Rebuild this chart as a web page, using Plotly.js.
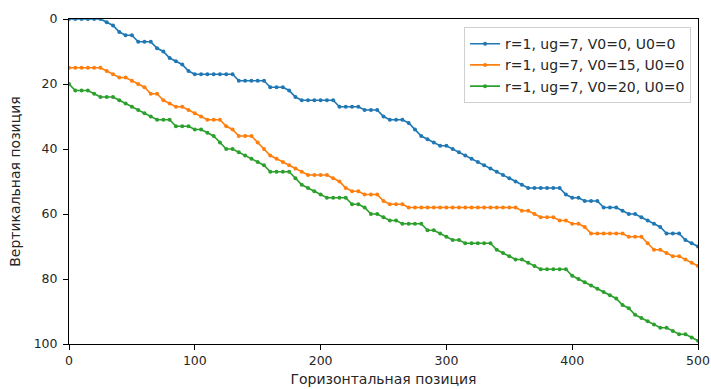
<!DOCTYPE html>
<html>
<head>
<meta charset="utf-8">
<script src="https://cdn.plot.ly/plotly-3.0.1.min.js"></script>
<style>html,body{margin:0;padding:0;background:#fff;}#chart{width:711px;height:389px;}</style>
</head>
<body>
<div id="chart"></div>
<script>
const xPos = [0,5,10,15,20,25,30,35,40,45,50,55,60,65,70,75,80,85,90,95,
  100,105,110,115,120,125,130,135,140,145,150,155,160,165,170,175,180,185,190,195,
  200,205,210,215,220,225,230,235,240,245,250,255,260,265,270,275,280,285,290,295,
  300,305,310,315,320,325,330,335,340,345,350,355,360,365,370,375,380,385,390,395,
  400,405,410,415,420,425,430,435,440,445,450,455,460,465,470,475,480,485,490,495,500];

const seriesNames = ["r=1, ug=7, V0=0, U0=0", "r=1, ug=7, V0=15, U0=0", "r=1, ug=7, V0=20, U0=0"];

const yV0_0 = [0,0,0,0,0,0,1,2,4,5,5,7,7,7,9,10,12,13,14,16,
  17,17,17,17,17,17,17,19,19,19,19,19,21,21,21,22,24,25,25,25,
  25,25,25,27,27,27,27,28,28,28,30,31,31,31,32,34,36,37,38,39,
  39,40,41,42,43,44,45,46,47,48,49,50,51,52,52,52,52,52,52,54,
  55,55,56,56,56,58,58,58,59,60,60,61,62,63,64,66,66,66,68,69,70];

const yV0_15 = [15,15,15,15,15,15,16,17,18,18,19,20,21,23,23,25,26,27,27,28,
  29,30,31,31,31,33,34,36,36,36,38,40,42,43,44,45,46,47,48,48,
  48,48,49,50,52,53,53,54,54,54,56,57,57,57,58,58,58,58,58,58,
  58,58,58,58,58,58,58,58,58,58,58,58,59,59,60,61,61,61,62,62,
  63,63,64,66,66,66,66,66,66,67,67,67,69,71,71,72,73,73,74,75,76];

const yV0_20 = [20,22,22,22,23,24,24,24,25,26,27,28,29,30,31,31,31,33,33,33,
  34,34,35,36,38,40,40,41,42,43,44,45,47,47,47,47,49,51,52,53,
  54,55,55,55,55,57,57,58,60,60,61,62,62,63,63,63,63,65,65,66,
  67,68,68,69,69,69,69,69,71,72,73,74,74,75,76,77,77,77,77,77,
  79,80,81,82,83,84,85,86,88,89,91,92,93,94,95,95,96,97,97,98,99];

const xTicks = [0,100,200,300,400,500];
const yTicks = [0,20,40,60,80,100];

const colors = ["#1f77b4", "#ff7f0e", "#2ca02c"];
const ys = [yV0_0, yV0_15, yV0_20];

const traces = ys.map((y, i) => ({
  x: xPos, y: y, name: seriesNames[i], type: "scatter", mode: "lines+markers",
  line: {color: colors[i], width: 1.7},
  marker: {color: colors[i], size: 4},
  cliponaxis: true
}));

const tickFont = {family: "DejaVu Sans", size: 12.5, color: "#262626"};
const titleFont = {family: "DejaVu Sans", size: 14, color: "#262626"};
const layout = {
  width: 711, height: 389,
  margin: {l: 69, r: 13, t: 19, b: 45},
  paper_bgcolor: "#fff", plot_bgcolor: "#fff",
  font: titleFont,
  showlegend: true,
  legend: {x: 0.989, y: 0.975, xanchor: "right", yanchor: "top",
    bordercolor: "#d0d0d0", borderwidth: 1, bgcolor: "rgba(255,255,255,0.8)",
    font: {family: "DejaVu Sans", size: 14, color: "#262626"}, tracegroupgap: 0},
  xaxis: {range: [0, 500], tickvals: xTicks, tickfont: tickFont, ticklabeloverflow: "allow",
    showline: true, mirror: true, linecolor: "#000", linewidth: 1,
    ticks: "outside", ticklen: 5, tickcolor: "#000", showgrid: false, zeroline: false,
    title: {text: "Горизонтальная позиция", standoff: 7, font: titleFont}},
  yaxis: {range: [100, 0], tickvals: yTicks, tickfont: tickFont, ticklabelstandoff: 3,
    showline: true, mirror: true, linecolor: "#000", linewidth: 1,
    ticks: "outside", ticklen: 5, tickcolor: "#000", showgrid: false, zeroline: false,
    title: {text: "Вертикальная позиция", standoff: 9, font: titleFont}}
};

Plotly.newPlot("chart", traces, layout, {staticPlot: true, displayModeBar: false});
</script>
</body>
</html>
